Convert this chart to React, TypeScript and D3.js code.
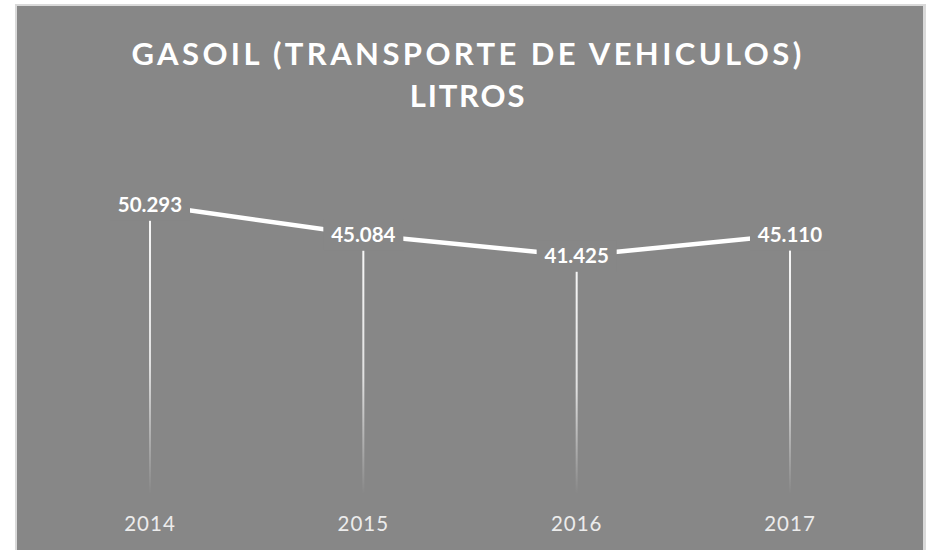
import React from "react";
import * as d3 from "d3";

const categories = ["2014", "2015", "2016", "2017"];
const values = [50293, 45084, 41425, 45110];
const valueLabels = ["50.293", "45.084", "41.425", "45.110"];
const titleLines = ["GASOIL (TRANSPORTE DE VEHICULOS)", "LITROS"];

const W = 930;
const H = 550;
const BG = "#878787";
const FONT = "Lato, 'Open Sans', 'DejaVu Sans', sans-serif";

export default function App() {
  const x = d3.scalePoint<string>().domain(categories).range([150, 790]);
  const y = d3.scaleLinear().domain([0, 60000]).range([494, 149]);
  const line = d3
    .line<number>()
    .x((_, i) => x(categories[i]) as number)
    .y((d) => y(d));

  return (
    <div style={{ position: "absolute", left: 0, top: 0 }}>
      <svg width={W} height={H} style={{ display: "block" }}>
        <defs>
          <linearGradient id="drop" x1="0" y1="0" x2="0" y2="1">
            <stop offset="0%" stopColor="#ffffff" stopOpacity={0.95} />
            <stop offset="55%" stopColor="#ffffff" stopOpacity={0.75} />
            <stop offset="100%" stopColor="#ffffff" stopOpacity={0} />
          </linearGradient>
        </defs>
        <rect x={0} y={0} width={W} height={H} fill="#ffffff" />
        <rect x={15} y={4} width={911} height={H - 4} fill="#d9d9d9" />
        <rect x={17} y={6} width={906} height={H - 6} fill={BG} />

        {titleLines.map((t, i) => (
          <text
            key={t}
            x={468}
            y={i === 0 ? 65 : 107}
            textAnchor="middle"
            fill="#ffffff"
            fontFamily={FONT}
            fontWeight={700}
            fontSize={31}
            letterSpacing={i === 0 ? 3.4 : 1.8}
          >
            {t}
          </text>
        ))}

        {values.map((v, i) => {
          const cx = x(categories[i]) as number;
          const top = y(v);
          return (
            <rect
              key={"d" + i}
              x={cx - 1}
              y={top}
              width={2}
              height={y(0) - top}
              fill="url(#drop)"
            />
          );
        })}

        <path
          d={line(values) || ""}
          fill="none"
          stroke="#ffffff"
          strokeWidth={4.5}
          strokeLinejoin="round"
        />

        {values.map((v, i) => {
          const cx = x(categories[i]) as number;
          const cy = y(v);
          return (
            <g key={"l" + i}>
              <rect x={cx - 40} y={cy - 15} width={80} height={31} fill={BG} />
              <text
                x={cx}
                y={cy + 7.5}
                textAnchor="middle"
                fill="#ffffff"
                fontFamily={FONT}
                fontWeight={700}
                fontSize={20.5}
              >
                {valueLabels[i]}
              </text>
            </g>
          );
        })}

        {categories.map((c) => (
          <text
            key={c}
            x={x(c) as number}
            y={530.5}
            textAnchor="middle"
            fill="#ececec"
            fontFamily={FONT}
            fontSize={20.5}
            letterSpacing={1}
          >
            {c}
          </text>
        ))}
      </svg>
    </div>
  );
}
